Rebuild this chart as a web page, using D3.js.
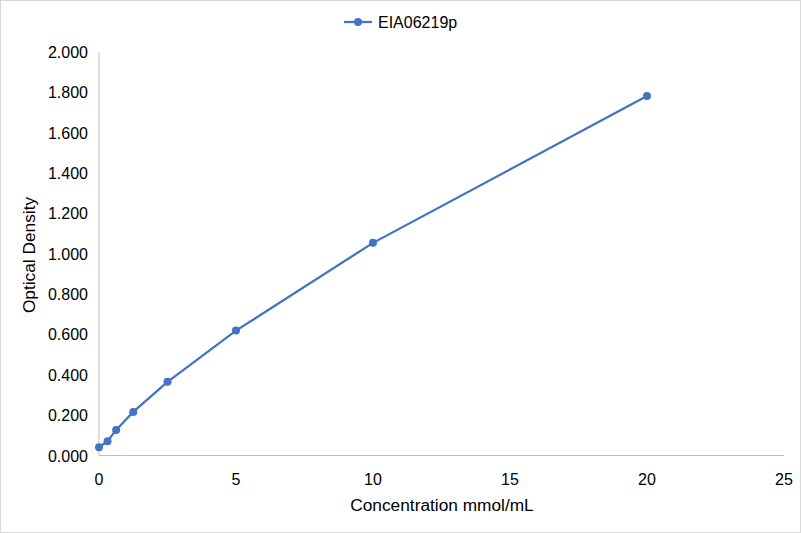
<!DOCTYPE html>
<html>
<head>
<meta charset="utf-8">
<script src="https://cdn.jsdelivr.net/npm/d3@7"></script>
<style>
  body { margin: 0; background: #fff; }
  svg { display: block; font-family: "Liberation Sans", Arial, sans-serif; }
</style>
</head>
<body>
<svg id="chart" width="801" height="533"></svg>
<script>
// standard curve points
var concentrations = [0, 0.3125, 0.625, 1.25, 2.5, 5, 10, 20];
var densities = [0.041, 0.071, 0.127, 0.216, 0.365, 0.619, 1.054, 1.782];
var seriesName = "EIA06219p";
var xTicks = [0, 5, 10, 15, 20, 25];
var yTicks = [0, 0.2, 0.4, 0.6, 0.8, 1.0, 1.2, 1.4, 1.6, 1.8, 2.0];

var svg = d3.select("#chart");
var blue = "#4472c4";

svg.append("rect")
  .attr("x", 0.5).attr("y", 0.5)
  .attr("width", 800).attr("height", 532)
  .attr("fill", "#fff").attr("stroke", "#d9d9d9");

var x = d3.scaleLinear().domain([0, 25]).range([99, 784]);
var y = d3.scaleLinear().domain([0, 2]).range([455.5, 52]);

// axes lines
svg.append("line")
  .attr("x1", x(0)).attr("x2", x(25))
  .attr("y1", y(0)).attr("y2", y(0))
  .attr("stroke", "#bfbfbf");
svg.append("line")
  .attr("x1", x(0)).attr("x2", x(0))
  .attr("y1", y(0)).attr("y2", y(2))
  .attr("stroke", "#bfbfbf");

svg.selectAll(".xt").data(xTicks).enter().append("text")
  .attr("class", "xt")
  .attr("x", function (d) { return x(d); })
  .attr("y", 485)
  .attr("text-anchor", "middle")
  .attr("font-size", 16)
  .attr("fill", "#000")
  .text(function (d) { return d; });

svg.selectAll(".yt").data(yTicks).enter().append("text")
  .attr("class", "yt")
  .attr("x", 88)
  .attr("y", function (d) { return y(d) + 6; })
  .attr("text-anchor", "end")
  .attr("font-size", 16)
  .attr("fill", "#000")
  .text(function (d) { return d3.format(".3f")(d); });

svg.append("text")
  .attr("x", 442).attr("y", 511)
  .attr("text-anchor", "middle")
  .attr("font-size", 17.3)
  .text("Concentration mmol/mL");

svg.append("text")
  .attr("transform", "translate(35,255) rotate(-90)")
  .attr("text-anchor", "middle")
  .attr("font-size", 17.3)
  .text("Optical Density");

var pts = d3.zip(concentrations, densities);
var line = d3.line()
  .x(function (d) { return x(d[0]); })
  .y(function (d) { return y(d[1]); });

svg.append("path")
  .datum(pts)
  .attr("d", line)
  .attr("fill", "none")
  .attr("stroke", blue)
  .attr("stroke-width", 2.25);

svg.selectAll(".pt").data(pts).enter().append("circle")
  .attr("class", "pt")
  .attr("cx", function (d) { return x(d[0]); })
  .attr("cy", function (d) { return y(d[1]); })
  .attr("r", 4)
  .attr("fill", blue);

// legend
var lg = svg.append("g").attr("transform", "translate(344,22)");
lg.append("line").attr("x1", 0).attr("x2", 28).attr("y1", 0).attr("y2", 0)
  .attr("stroke", blue).attr("stroke-width", 2.25);
lg.append("circle").attr("cx", 14).attr("cy", 0).attr("r", 4).attr("fill", blue);
lg.append("text").attr("x", 34).attr("y", 6)
  .attr("font-size", 16).text(seriesName);
</script>
</body>
</html>
